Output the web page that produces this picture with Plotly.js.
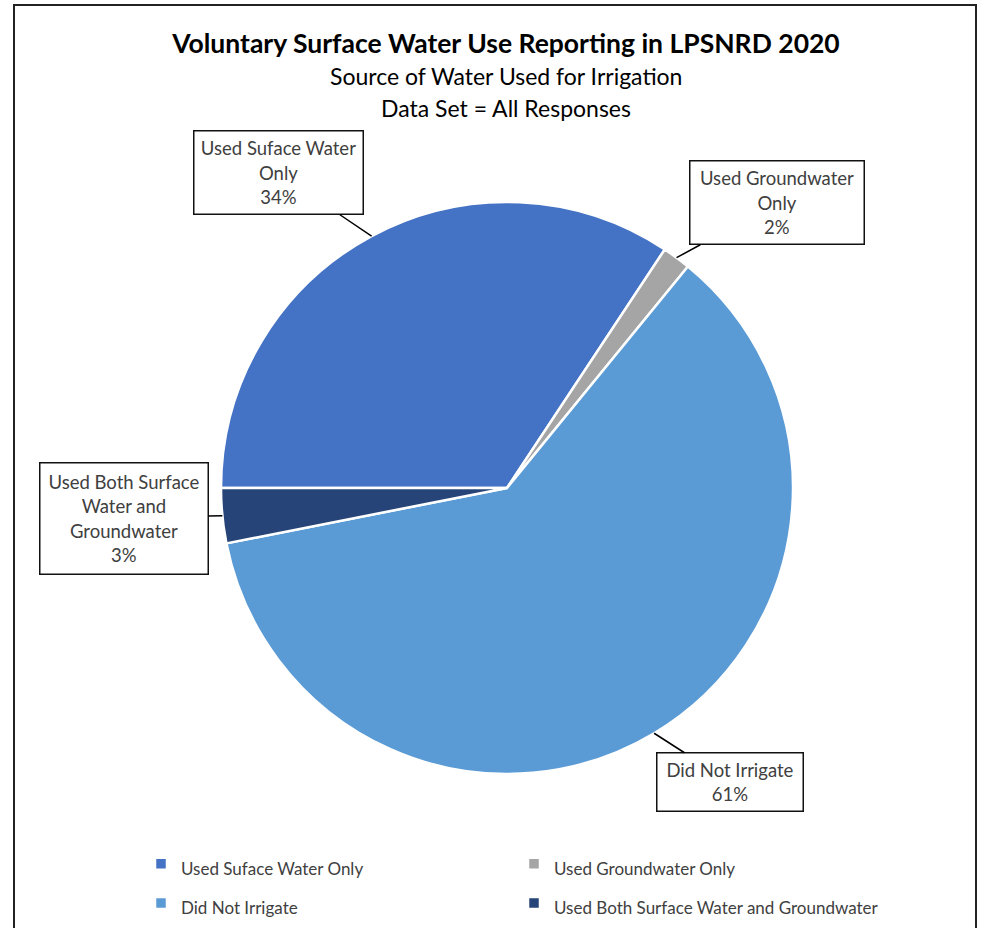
<!DOCTYPE html>
<html>
<head>
<meta charset="utf-8">
<script src="https://cdn.plot.ly/plotly-3.0.1.min.js"></script>
<style>html,body{margin:0;padding:0;background:#fff;}#chart{width:985px;height:928px;}</style>
</head>
<body>
<div id="chart"></div>
<script>
// ---- data ----
const labels = ['Used Suface Water Only', 'Used Groundwater Only', 'Did Not Irrigate', 'Used Both Surface Water and Groundwater'];
const values = [34.3, 1.6, 61.0, 3.1];
const calloutLabels = ['Used Suface Water<br>Only', 'Used Groundwater<br>Only', 'Did Not Irrigate', 'Used Both Surface<br>Water and<br>Groundwater'];
const colors = ['#4472C4', '#A5A5A5', '#5B9BD5', '#264478'];
const titleText = 'Voluntary Surface Water Use Reporting in LPSNRD 2020';
const subtitleLines = ['Source of Water Used for Irrigation', 'Data Set = All Responses'];

// ---- layout geometry ----
const W = 985, H = 928;
const cx = 507, cy = 488, r = 286;
const rotation = -90;
const FONT = 'Lato, "Open Sans", sans-serif';
// callout box centers (px) and sizes
const boxCenters = [[278, 173], [777, 203], [730, 782], [124, 518]];
const boxSizes = [[166, 80], [171, 80], [143, 55], [165, 108]];

const total = values.reduce((a, b) => a + b, 0);
const annotations = [];
let cum = 0;
values.forEach((v, i) => {
  const mid = rotation + (cum + v / 2) / total * 360;
  cum += v;
  const rad = mid * Math.PI / 180;
  const px = cx + r * Math.sin(rad);
  const py = cy - r * Math.cos(rad);
  const pct = Math.round(v / total * 100) + '%';
  annotations.push({
    xref: 'paper', yref: 'paper',
    x: px / W, y: 1 - py / H,
    ax: boxCenters[i][0] - px, ay: boxCenters[i][1] - py,
    axref: 'pixel', ayref: 'pixel',
    text: calloutLabels[i] + '<br>' + pct,
    showarrow: true, arrowhead: 0, arrowwidth: 1.5, arrowcolor: '#000', standoff: 0,
    bordercolor: '#111', borderwidth: 1.5, borderpad: 1, bgcolor: '#fff',
    width: boxSizes[i][0], height: boxSizes[i][1],
    font: {family: FONT, size: 18.5, color: '#404040'}
  });
});
subtitleLines.forEach((t, i) => {
  annotations.push({
    xref: 'paper', yref: 'paper', x: 506 / W, y: 1 - (76 + 32 * i) / H,
    xanchor: 'center', yanchor: 'middle', showarrow: false,
    text: t, font: {family: FONT, size: 23, color: '#000'}
  });
});

// legend text drawn smaller than the legend row font, so rows get Excel-like spacing
const legendNames = labels.map(l => '<span style="font-size:17px">' + l + '</span>');

const trace = {
  type: 'pie',
  labels: legendNames,
  values: values,
  sort: false,
  direction: 'clockwise',
  rotation: rotation,
  textinfo: 'none',
  hovertemplate: '%{customdata}: %{percent}<extra></extra>',
  customdata: labels,
  marker: {colors: colors, line: {color: '#fff', width: 2.5}},
  domain: {x: [(cx - r) / W, (cx + r) / W], y: [1 - (cy + r) / H, 1 - (cy - r) / H]}
};

const layout = {
  width: W, height: H,
  margin: {l: 0, r: 0, t: 0, b: 0},
  paper_bgcolor: '#fff',
  title: {
    text: '<b>' + titleText + '</b>',
    font: {family: FONT, size: 26.5, color: '#000'},
    x: 506 / W, xanchor: 'center', xref: 'paper',
    y: 1 - 44 / H, yanchor: 'middle', yref: 'paper'
  },
  showlegend: true,
  legend: {
    orientation: 'h', x: 141 / W, xanchor: 'left', y: 0, yanchor: 'bottom',
    entrywidth: 328, entrywidthmode: 'pixels',
    font: {family: FONT, size: 28, color: '#404040'},
    traceorder: 'normal'
  },
  annotations: annotations,
  shapes: [{
    type: 'path', xref: 'paper', yref: 'paper',
    path: 'M ' + (14 / W) + ' 0 L ' + (14 / W) + ' ' + (1 - 5 / H) + ' L ' + (976 / W) + ' ' + (1 - 5 / H) + ' L ' + (976 / W) + ' 0',
    line: {color: '#222', width: 2}
  }]
};

Plotly.newPlot('chart', [trace], layout, {displayModeBar: false});
</script>
</body>
</html>
